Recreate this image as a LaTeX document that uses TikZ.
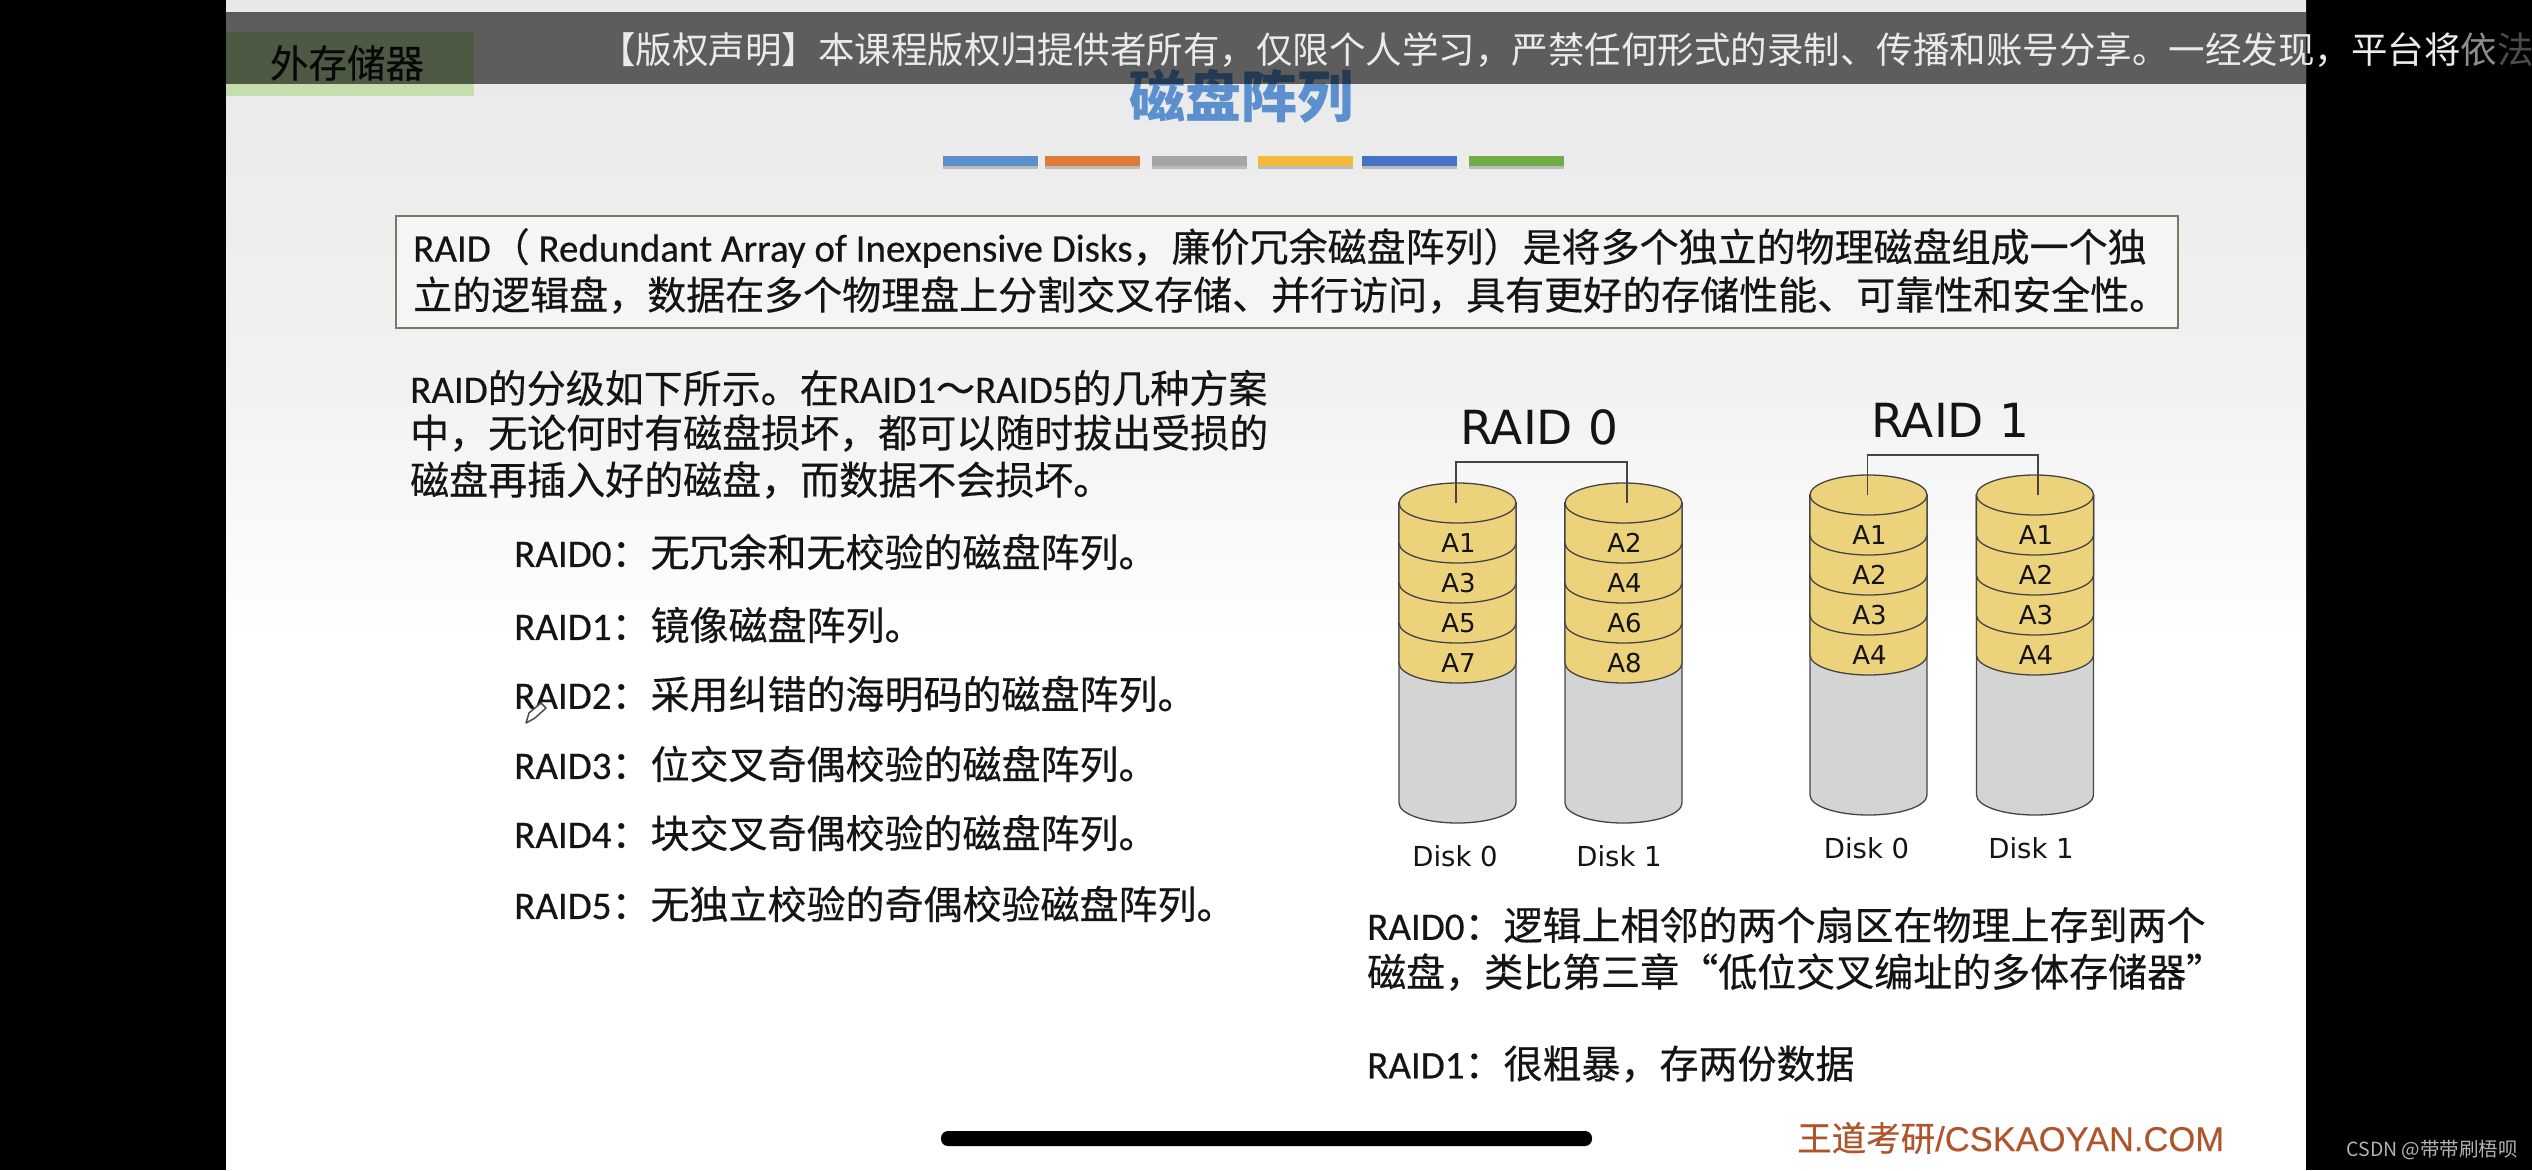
\documentclass[tikz,border=0pt]{standalone}
\usepackage{fontspec}
\setmainfont{Noto Sans CJK SC}
\newfontfamily\cnfont[FakeBold=.4]{Noto Sans CJK SC}
\newfontfamily\enfont[FakeBold=.4]{Carlito}
\newfontfamily\dvfont{DejaVu Sans}
\newfontfamily\arfont[FakeBold=.3]{Liberation Sans}
\usetikzlibrary{positioning, calc, shadows}
\newcommand{\en}[1]{{\enfont #1}}

\definecolor{gold}{HTML}{EDD27C}
\definecolor{platter}{HTML}{D4D4D4}
\definecolor{edgeink}{HTML}{444444}
\definecolor{ink}{HTML}{141414}

\tikzset{
    body/.style={anchor=west, inner sep=0pt, text=ink, font=\cnfont\fontsize{39}{46}\selectfont},
    bar/.style={minimum width=95pt, minimum height=10pt, inner sep=0pt, anchor=north west, drop shadow={shadow xshift=0pt, shadow yshift=-3pt, fill=black!45}},
    cell/.style={inner sep=0pt, text=ink, font=\dvfont\fontsize{26}{30}\selectfont},
    diskname/.style={inner sep=0pt, text=ink, font=\dvfont\fontsize{27.5}{30}\selectfont},
    banner/.style={inner sep=0pt, font=\dvfont\fontsize{47}{50}\selectfont, text=ink},
    link/.style={draw=edgeink, line width=1.4pt},
    platterline/.style={draw=edgeink, line width=1.3pt}
}

% one layer of a disk, filled down to its lower rim
\newcommand{\layer}[2]{
    \path[platterline, fill=#1] (-58.5,0) -- (-58.5,#2) arc[start angle=180, end angle=360, x radius=58.5pt, y radius=20pt] -- (58.5,0) -- cycle;
}

% name, centre x, y of the top, labels
\newcommand{\disk}[7]{
    \begin{scope}[shift={(#2,#3)}]
        \layer{platter}{300}
        \layer{gold}{160}
        \layer{gold}{120}
        \layer{gold}{80}
        \layer{gold}{40}
        \path[platterline, fill=gold] (0,0) ellipse [x radius=58.5pt, y radius=20pt];
        \node[cell] (#1a) at (1,40) {#4};
        \node[cell] (#1b) [below of=#1a] {#5};
        \node[cell] (#1c) [below of=#1b] {#6};
        \node[cell] (#1d) [below of=#1c] {#7};
    \end{scope}
}

\begin{document}
\begin{tikzpicture}[x=1pt, y=-1pt, node distance=40pt]
    \useasboundingbox (0,0) rectangle (2532,1170);
    \fill[black] (0,0) rectangle (2532,1170);

    % the slide
    \fill[white] (226,620) rectangle (2306,1170);
    \path[top color=black!5, bottom color=white] (226,400) rectangle (2306,640);
    \path[top color=black!9, bottom color=black!5] (226,0) rectangle (2306,400);

    \node[fill={rgb,255:red,197;green,223;blue,172}, minimum width=248pt, minimum height=64pt, inner sep=0pt, anchor=north west] (tab) at (226,32) {};
    \node[inner sep=0pt, text=ink, font=\cnfont\fontsize{38.5}{46}\selectfont] (tabtext) at (347,63) {外存储器};
    \node[inner sep=0pt, text={rgb,255:red,92;green,143;blue,205}, font=\bfseries\fontsize{56}{60}\selectfont] (title) at (1241,96) {磁盘阵列};

    % colour bars
    \node[bar, fill={rgb,255:red,91;green,143;blue,201}] (barA) at (943,156) {};
    \node[bar, fill={rgb,255:red,221;green,123;blue,59}] (barB) at (1045,156) {};
    \node[bar, fill={rgb,255:red,165;green,165;blue,165}] (barC) at (1152,156) {};
    \node[bar, fill={rgb,255:red,242;green,188;blue,58}] (barD) at (1258,156) {};
    \node[bar, fill={rgb,255:red,68;green,114;blue,196}] (barE) at (1362,156) {};
    \node[bar, fill={rgb,255:red,112;green,173;blue,71}] (barF) at (1469,156) {};

    % definition box
    \draw[draw={rgb,255:red,112;green,124;blue,100}, line width=1.5pt, fill=black!4] (396,216) rectangle (2178,328);
    \node[body] (defA) at (413,248) {\en{RAID}（ \en{Redundant Array of Inexpensive Disks}，廉价冗余磁盘阵列）是将多个独立的物理磁盘组成一个独};
    \node[body] (defB) at (413,295) {立的逻辑盘，数据在多个物理盘上分割交叉存储、并行访问，具有更好的存储性能、可靠性和安全性。};

    % left column
    \node[body] (introA) at (410,388) {\en{RAID}的分级如下所示。在\en{RAID1}～\en{RAID5}的几种方案};
    \node[body] (introB) at (410,433) {中，无论何时有磁盘损坏，都可以随时拔出受损的};
    \node[body] (introC) at (410,480) {磁盘再插入好的磁盘，而数据不会损坏。};

    \node[body] (lvlA) at (514,552) {\en{RAID0}：无冗余和无校验的磁盘阵列。};
    \node[body] (lvlB) at (514,625) {\en{RAID1}：镜像磁盘阵列。};
    \node[body] (lvlC) at (514,694) {\en{RAID2}：采用纠错的海明码的磁盘阵列。};
    \node[body] (lvlD) at (514,764) {\en{RAID3}：位交叉奇偶校验的磁盘阵列。};
    \node[body] (lvlE) at (514,833) {\en{RAID4}：块交叉奇偶校验的磁盘阵列。};
    \node[body] (lvlF) at (514,904) {\en{RAID5}：无独立校验的奇偶校验磁盘阵列。};

    % the pen cursor
    \draw[draw=black!70, line width=1.5pt, fill=white, line join=round] (526,723) -- (529,713) -- (541,703) -- (546,708) -- (535,718) -- cycle;

    % RAID 0
    \node[banner] (zero) at (1539,427) {RAID 0};
    \disk{p}{1457.5}{503}{A1}{A3}{A5}{A7}
    \disk{q}{1623.5}{503}{A2}{A4}{A6}{A8}
    \node[diskname] (pname) at (1455,856) {Disk 0};
    \node[diskname] (qname) at (1619,856) {Disk 1};
    \coordinate (pt) at (1456,503);
    \coordinate (qt) at (1627,503);
    \draw[link] (pt) -- +(0,-41) -| (qt);

    % RAID 1
    \node[banner] (one) at (1950,420) {RAID 1};
    \disk{r}{1868.5}{495}{A1}{A2}{A3}{A4}
    \disk{s}{2035}{495}{A1}{A2}{A3}{A4}
    \node[diskname] (rname) at (1866.5,848) {Disk 0};
    \node[diskname] (sname) at (2031,848) {Disk 1};
    \coordinate (rt) at (1867.5,495);
    \coordinate (st) at (2038,495);
    \draw[link] (rt) -- +(0,-40) -| (st);

    % notes under the disks
    \node[body] (noteA) at (1367,925) {\en{RAID0}：逻辑上相邻的两个扇区在物理上存到两个};
    \node[body] (noteB) at (1367,972) {磁盘，类比第三章“低位交叉编址的多体存储器”};
    \node[body] (noteC) at (1367,1064) {\en{RAID1}：很粗暴，存两份数据};

    \node[anchor=west, inner sep=0pt, text={rgb,255:red,176;green,84;blue,44}, font=\cnfont\fontsize{34.5}{40}\selectfont] (brand) at (1797,1138) {王道考研\arfont/CSKAOYAN.COM};

    % player overlay
    \fill[black, opacity=.6] (226,12) rectangle (2306,84);
    \node[anchor=west, inner sep=0pt, text=black!8, font=\fontsize{36.5}{44}\selectfont] (notice) at (599,50) {【版权声明】本课程版权归提供者所有，仅限个人学习，严禁任何形式的录制、传播和账号分享。一经发现，平台将{\color{black!45}依}{\color{black!70}法}};
    \fill[black, rounded corners=7pt] (941,1131) rectangle (1592,1146);
    \node[anchor=east, inner sep=0pt, text=black!30, font=\fontsize{19.5}{24}\selectfont] (mark) at (2518,1150) {CSDN @带带刷梧呗};
\end{tikzpicture}
\end{document}
